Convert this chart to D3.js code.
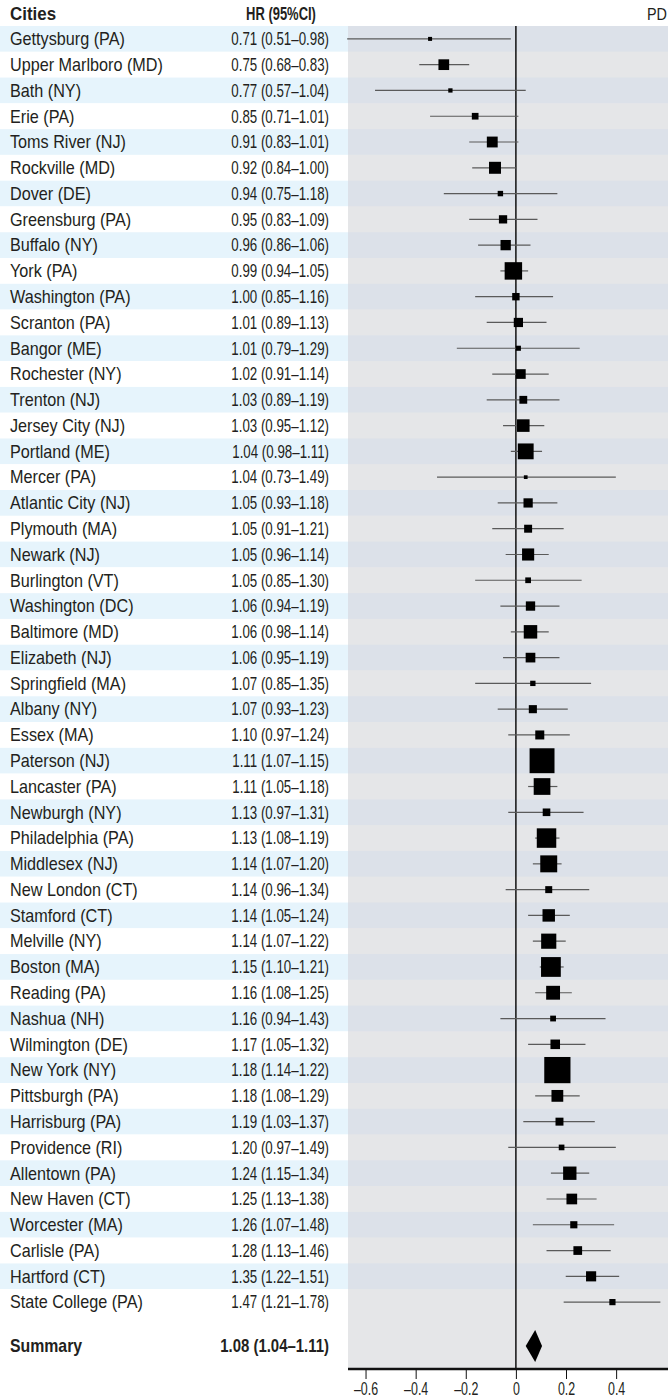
<!DOCTYPE html>
<html>
<head>
<meta charset="utf-8">
<script src="https://cdn.jsdelivr.net/npm/d3@7"></script>
<style>
  body { margin: 0; background: #fff; }
  svg text { font-family: "Liberation Sans", Arial, sans-serif; fill: #231f20; }
</style>
</head>
<body>
<svg id="chart" width="668" height="1400"></svg>
<script>
// city estimates, hazard ratios with 95% CI
var cities = ["Gettysburg (PA)", "Upper Marlboro (MD)", "Bath (NY)", "Erie (PA)", "Toms River (NJ)",
  "Rockville (MD)", "Dover (DE)", "Greensburg (PA)", "Buffalo (NY)", "York (PA)",
  "Washington (PA)", "Scranton (PA)", "Bangor (ME)", "Rochester (NY)", "Trenton (NJ)",
  "Jersey City (NJ)", "Portland (ME)", "Mercer (PA)", "Atlantic City (NJ)", "Plymouth (MA)",
  "Newark (NJ)", "Burlington (VT)", "Washington (DC)", "Baltimore (MD)", "Elizabeth (NJ)",
  "Springfield (MA)", "Albany (NY)", "Essex (MA)", "Paterson (NJ)", "Lancaster (PA)",
  "Newburgh (NY)", "Philadelphia (PA)", "Middlesex (NJ)", "New London (CT)", "Stamford (CT)",
  "Melville (NY)", "Boston (MA)", "Reading (PA)", "Nashua (NH)", "Wilmington (DE)",
  "New York (NY)", "Pittsburgh (PA)", "Harrisburg (PA)", "Providence (RI)", "Allentown (PA)",
  "New Haven (CT)", "Worcester (MA)", "Carlisle (PA)", "Hartford (CT)", "State College (PA)"];

var hr = [0.71, 0.75, 0.77, 0.85, 0.91, 0.92, 0.94, 0.95, 0.96, 0.99,
  1.00, 1.01, 1.01, 1.02, 1.03, 1.03, 1.04, 1.04, 1.05, 1.05,
  1.05, 1.05, 1.06, 1.06, 1.06, 1.07, 1.07, 1.10, 1.11, 1.11,
  1.13, 1.13, 1.14, 1.14, 1.14, 1.14, 1.15, 1.16, 1.16, 1.17,
  1.18, 1.18, 1.19, 1.20, 1.24, 1.25, 1.26, 1.28, 1.35, 1.47];

var lo = [0.51, 0.68, 0.57, 0.71, 0.83, 0.84, 0.75, 0.83, 0.86, 0.94,
  0.85, 0.89, 0.79, 0.91, 0.89, 0.95, 0.98, 0.73, 0.93, 0.91,
  0.96, 0.85, 0.94, 0.98, 0.95, 0.85, 0.93, 0.97, 1.07, 1.05,
  0.97, 1.08, 1.07, 0.96, 1.05, 1.07, 1.10, 1.08, 0.94, 1.05,
  1.14, 1.08, 1.03, 0.97, 1.15, 1.13, 1.07, 1.13, 1.22, 1.21];

var hi = [0.98, 0.83, 1.04, 1.01, 1.01, 1.00, 1.18, 1.09, 1.06, 1.05,
  1.16, 1.13, 1.29, 1.14, 1.19, 1.12, 1.11, 1.49, 1.18, 1.21,
  1.14, 1.30, 1.19, 1.14, 1.19, 1.35, 1.23, 1.24, 1.15, 1.18,
  1.31, 1.19, 1.20, 1.34, 1.24, 1.22, 1.21, 1.25, 1.43, 1.32,
  1.22, 1.29, 1.37, 1.49, 1.34, 1.38, 1.48, 1.46, 1.51, 1.78];

var summary = {label: "Summary", hr: 1.08, lo: 1.04, hi: 1.11};
var xTicks = [-0.6, -0.4, -0.2, 0, 0.2, 0.4];

var svg = d3.select("#chart"),
    panelLeft = 348,
    panelRight = 668,
    panelTop = 26,
    rowH = 25.78,
    axisY = 1369,
    sumY = 1346,
    fs = 18;

var fmt = function(v) { return v.toFixed(2); };
var fmtCI = function(h, l, u) { return fmt(h) + " (" + fmt(l) + "\u2013" + fmt(u) + ")"; };

// the original type is a narrow condensed face, squeeze text horizontally
var place = function(px, py, sx) { return "translate(" + px + "," + py + ") scale(" + sx + ",1)"; };

var data = cities.map(function(c, i) {
  return {city: c, hr: hr[i], lo: lo[i], hi: hi[i],
          se: (Math.log(hi[i]) - Math.log(lo[i])) / 3.92};
});

var x = d3.scaleLinear()
    .domain([-0.67, 0.607])
    .range([panelLeft, panelRight]);

var y = d3.scaleBand()
    .domain(d3.range(cities.length))
    .range([panelTop, panelTop + rowH * cities.length]);

var cy = function(d, i) { return y(i) + y.bandwidth() / 2; };

// square side grows with precision
var size = d3.scalePow().exponent(0.83)
    .domain([0, 6])
    .range([0, 4]);

// row stripes
svg.selectAll("rect.left")
  .data(data)
  .enter().append("rect")
    .attr("class", "left")
    .attr("x", 0)
    .attr("y", function(d, i) { return y(i); })
    .attr("width", panelLeft)
    .attr("height", y.bandwidth())
    .attr("fill", function(d, i) { return i % 2 == 0 ? "#e6f4fc" : "#fff"; });

svg.append("rect")
    .attr("x", panelLeft)
    .attr("y", panelTop)
    .attr("width", panelRight - panelLeft)
    .attr("height", axisY - panelTop)
    .attr("fill", "#e5e6e8");

svg.selectAll("rect.panel")
  .data(data)
  .enter().append("rect")
    .attr("class", "panel")
    .attr("x", panelLeft)
    .attr("y", function(d, i) { return y(i); })
    .attr("width", panelRight - panelLeft)
    .attr("height", y.bandwidth())
    .attr("fill", function(d, i) { return i % 2 == 0 ? "#dce1e9" : "#e5e6e8"; });

// headers
svg.append("text").attr("transform", place(10, 14, 0.94)).attr("dy", "0.35em")
    .attr("font-size", fs).attr("font-weight", "bold").text("Cities");
svg.append("text").attr("transform", place(281, 14, 0.72)).attr("dy", "0.35em")
    .attr("font-size", fs).attr("font-weight", "bold").attr("text-anchor", "middle").text("HR (95%CI)");
svg.append("text").attr("transform", place(667, 14, 0.9)).attr("dy", "0.35em")
    .attr("font-size", 16).attr("text-anchor", "end").text("PD");

// labels
svg.selectAll("text.city")
  .data(data)
  .enter().append("text")
    .attr("class", "city")
    .attr("transform", function(d, i) { return place(10, cy(d, i), 0.9); })
    .attr("dy", "0.35em")
    .attr("font-size", fs)
    .text(function(d) { return d.city; });

svg.selectAll("text.hr")
  .data(data)
  .enter().append("text")
    .attr("class", "hr")
    .attr("transform", function(d, i) { return place(329, cy(d, i), 0.74); })
    .attr("dy", "0.35em")
    .attr("font-size", fs)
    .attr("text-anchor", "end")
    .text(function(d) { return fmtCI(d.hr, d.lo, d.hi); });

svg.append("text").attr("transform", place(10, sumY, 0.88)).attr("dy", "0.35em").attr("font-size", fs)
    .attr("font-weight", "bold").text(summary.label);
svg.append("text").attr("transform", place(329, sumY, 0.83)).attr("dy", "0.35em").attr("font-size", fs)
    .attr("font-weight", "bold").attr("text-anchor", "end")
    .text(fmtCI(summary.hr, summary.lo, summary.hi));

// reference line at 0
svg.append("line")
    .attr("x1", x(0)).attr("x2", x(0))
    .attr("y1", panelTop).attr("y2", axisY)
    .attr("stroke", "#111")
    .attr("stroke-width", 1.5);

// confidence intervals
svg.selectAll("line.ci")
  .data(data)
  .enter().append("line")
    .attr("class", "ci")
    .attr("x1", function(d) { return x(Math.log(d.lo)); })
    .attr("x2", function(d) { return x(Math.log(d.hi)); })
    .attr("y1", cy)
    .attr("y2", cy)
    .attr("stroke", "#5a5a5a")
    .attr("stroke-width", 1.2);

svg.selectAll("rect.pt")
  .data(data)
  .enter().append("rect")
    .attr("class", "pt")
    .attr("x", function(d) { return x(Math.log(d.hr)) - size(1 / d.se) / 2; })
    .attr("y", function(d, i) { return cy(d, i) - size(1 / d.se) / 2; })
    .attr("width", function(d) { return size(1 / d.se); })
    .attr("height", function(d) { return size(1 / d.se); })
    .attr("fill", "#000");

// summary diamond
var dh = 16;
svg.append("path")
    .attr("d", "M" + x(Math.log(summary.lo)) + "," + sumY +
               "L" + x(Math.log(summary.hr)) + "," + (sumY - dh) +
               "L" + x(Math.log(summary.hi)) + "," + sumY +
               "L" + x(Math.log(summary.hr)) + "," + (sumY + dh) + "Z")
    .attr("fill", "#000");

// axis
var axis = svg.append("g")
    .attr("transform", "translate(0," + axisY + ")")
    .call(d3.axisBottom(x).tickValues(xTicks).tickSize(10).tickPadding(3)
      .tickFormat(function(d) { return d == 0 ? "0" : d3.format(".1f")(d).replace("\u2212", "\u2013").replace("-", "\u2013"); }));
axis.select(".domain")
    .attr("d", "M" + panelLeft + ",0H" + panelRight)
    .attr("stroke", "#111")
    .attr("stroke-width", 2.5);
axis.selectAll(".tick line").attr("stroke", "#111");
axis.selectAll(".tick text")
    .attr("font-size", fs)
    .attr("font-family", null)
    .attr("fill", "#231f20")
    .attr("transform", "scale(0.69,1)");
</script>
</body>
</html>
